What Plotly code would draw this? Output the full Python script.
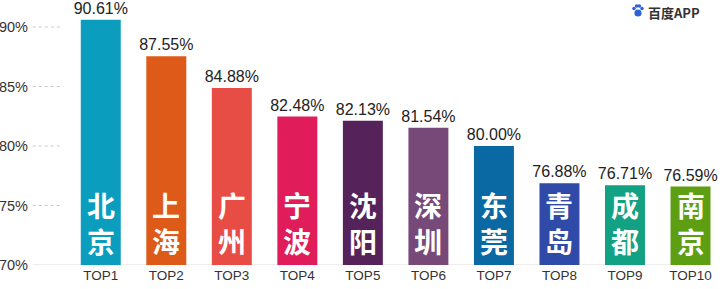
import plotly.graph_objects as go

categories = ["TOP1", "TOP2", "TOP3", "TOP4", "TOP5", "TOP6", "TOP7", "TOP8", "TOP9", "TOP10"]
cities = ["北京", "上海", "广州", "宁波", "沈阳", "深圳", "东莞", "青岛", "成都", "南京"]
values = [90.61, 87.55, 84.88, 82.48, 82.13, 81.54, 80.00, 76.88, 76.71, 76.59]
colors = ["#0A9DBE", "#DE5A19", "#E84D45", "#E01C5B", "#55235A", "#764979",
          "#0A69A2", "#2F4AA7", "#12A183", "#5E9E12"]
y_ticks = [70, 75, 80, 85, 90]
y_range = [70, 92.27]

fig = go.Figure()
fig.add_trace(go.Bar(
    x=categories, y=values,
    marker=dict(color=colors, line=dict(width=0)),
    width=0.61,
    text=[f"{v:.2f}%" for v in values],
    textposition="outside",
    constraintext="none",
    textfont=dict(family="Liberation Sans, Arial", size=16, color="#222222"),
    cliponaxis=False,
))

# city names, one character per line, stacked from the bar base
for cat, city in zip(categories, cities):
    fig.add_annotation(
        x=cat, y=y_range[0], xref="x", yref="y",
        text="<br>".join(city), showarrow=False,
        yanchor="bottom", yshift=2,
        font=dict(family="Noto Sans CJK SC", size=28, color="white", weight="bold"),
    )

for t in y_ticks[1:]:
    fig.add_shape(type="line", xref="paper", yref="y",
                  x0=-0.054, x1=-0.009, y0=t, y1=t,
                  line=dict(color="#C8C8C8", width=1, dash="dot"), layer="below")
fig.add_shape(type="line", xref="paper", yref="y",
              x0=-0.054, x1=0.985, y0=y_ticks[0], y1=y_ticks[0],
              line=dict(color="#DDDDDD", width=1.2), layer="below")

# logo: "百度APP" with a small paw
fig.add_annotation(x=0.972, y=1.0, xref="paper", yref="paper", xanchor="right", yanchor="top",
                   yshift=-1, text="<b>百度APP</b>", showarrow=False,
                   font=dict(family="Noto Sans CJK SC", size=13, color="#333333"))
paw = [(-4.0, -2.5, 1.8), (-1.4, -5.0, 1.8), (1.4, -5.0, 1.8), (4.0, -2.5, 1.8), (0, 2.0, 3.6)]
cx, cy = 638, 11
for dx, dy, r in paw:
    px, py = cx + dx, cy + dy
    fig.add_shape(type="circle", xref="paper", yref="paper",
                  x0=(px - r - 68) / 652, x1=(px + r - 68) / 652,
                  y0=(289 - 24 - (py + r)) / 265, y1=(289 - 24 - (py - r)) / 265,
                  fillcolor="#2D63D8", line=dict(width=0))

fig.update_layout(
    width=720, height=289,
    margin=dict(l=68, r=0, t=0, b=24),
    plot_bgcolor="white", paper_bgcolor="white",
    showlegend=False,
    xaxis=dict(range=[-0.5, 9.45], showgrid=False, showline=False, zeroline=False,
               ticks="", tickfont=dict(family="Liberation Sans, Arial", size=13.5, color="#333333")),
    yaxis=dict(range=y_range, tickvals=y_ticks, ticktext=[f"{t}%" for t in y_ticks],
               showgrid=False, zeroline=False, showline=False, ticks="",
               ticklabelstandoff=39,
               tickfont=dict(family="Liberation Sans, Arial", size=14.5, color="#333333")),
)

fig.write_html("out.html")
